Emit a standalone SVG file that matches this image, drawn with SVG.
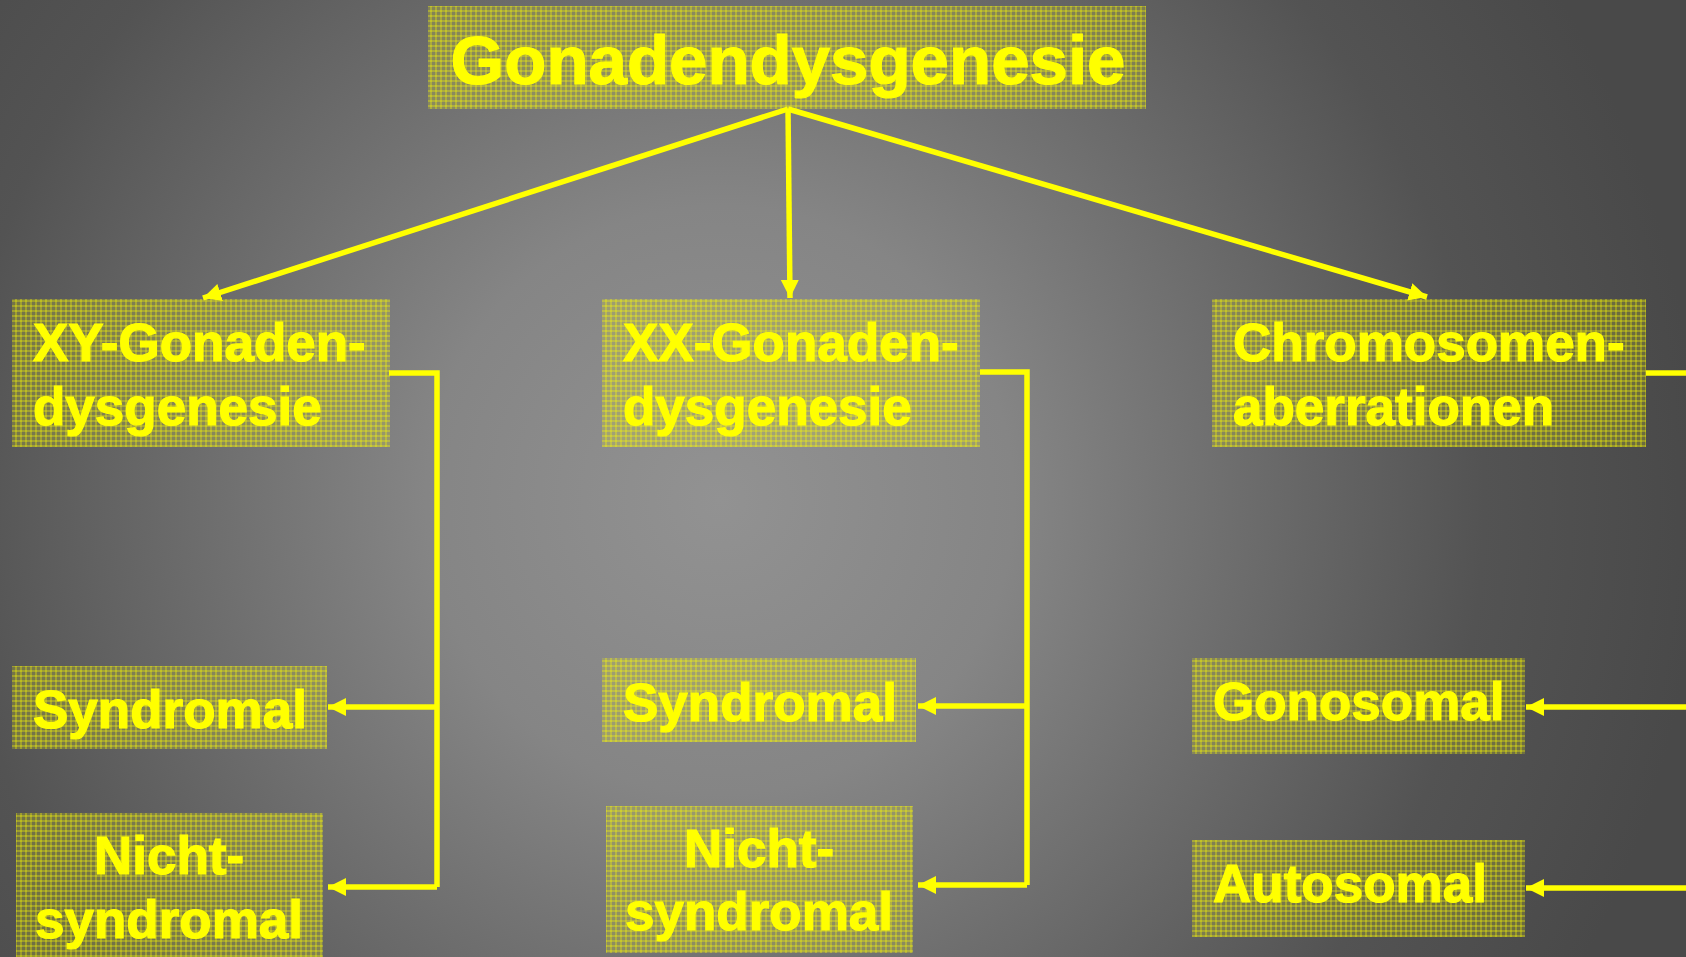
<svg xmlns="http://www.w3.org/2000/svg" width="1686" height="957" viewBox="0 0 1686 957">
<defs>
<radialGradient id="bg" gradientUnits="userSpaceOnUse" cx="720" cy="500" r="980">
<stop offset="0" stop-color="#929292"/>
<stop offset="0.3" stop-color="#858585"/>
<stop offset="0.78" stop-color="#535353"/>
<stop offset="1" stop-color="#494949"/>
</radialGradient>
<pattern id="mesh" width="5" height="5" patternUnits="userSpaceOnUse">
<rect width="5" height="5" fill="#ffff00" fill-opacity="0.18"/>
<rect x="0" y="0" width="2" height="5" fill="#ffff00" fill-opacity="0.3"/>
<rect x="0" y="0" width="5" height="2" fill="#ffff00" fill-opacity="0.3"/>
</pattern>
<marker id="arr" markerUnits="userSpaceOnUse" markerWidth="19" markerHeight="19" refX="18" refY="9" orient="auto">
<path d="M0,0 L18,9 L0,18 z" fill="#ffff00"/>
</marker>
<style>
.box{fill:url(#mesh);}
.t{font-family:"Liberation Sans",Arial,sans-serif;font-weight:bold;font-size:53px;fill:#ffff00;stroke:#ffff00;stroke-width:1.2px;}
.title{font-size:69px;}
.c{fill:none;stroke:#ffff00;stroke-width:5.5;}
.a{marker-end:url(#arr);}
</style>
</defs>
<rect width="1686" height="957" fill="url(#bg)"/>

<g id="connectors">
<path class="c a" d="M788,109 L203,298"/>
<path class="c a" d="M788,109 L790,298"/>
<path class="c a" d="M788,109 L1427,297"/>
<path class="c" d="M389,373 H437 V887"/>
<path class="c a" d="M437,707 H328"/>
<path class="c a" d="M437,887 H328"/>
<path class="c" d="M980,372 H1027 V885"/>
<path class="c a" d="M1027,706 H918"/>
<path class="c a" d="M1027,885 H918"/>
<path class="c" d="M1646,373 H1690"/>
<path class="c a" d="M1690,707 H1526"/>
<path class="c a" d="M1690,888 H1526"/>
</g>

<g id="node-root">
<rect class="box" x="428" y="6" width="718" height="103"/>
<text class="t title" x="788" y="84" text-anchor="middle">Gonadendysgenesie</text>
</g>
<g id="node-xy">
<rect class="box" x="12" y="299" width="378" height="148"/>
<text class="t" x="33" y="361">XY-Gonaden-</text>
<text class="t" x="33" y="425">dysgenesie</text>
</g>
<g id="node-xx">
<rect class="box" x="602" y="299" width="378" height="148"/>
<text class="t" x="623" y="361">XX-Gonaden-</text>
<text class="t" x="623" y="425">dysgenesie</text>
</g>
<g id="node-chrom">
<rect class="box" x="1212" y="299" width="434" height="148"/>
<text class="t" x="1233" y="361">Chromosomen-</text>
<text class="t" x="1233" y="425">aberrationen</text>
</g>
<g id="node-xy-syn">
<rect class="box" x="12" y="666" width="315" height="83"/>
<text class="t" x="33" y="728">Syndromal</text>
</g>
<g id="node-xy-nicht">
<rect class="box" x="16" y="813" width="307" height="144"/>
<text class="t" x="169" y="874" text-anchor="middle">Nicht-</text>
<text class="t" x="169" y="938" text-anchor="middle">syndromal</text>
</g>
<g id="node-xx-syn">
<rect class="box" x="602" y="658" width="314" height="84"/>
<text class="t" x="623" y="721">Syndromal</text>
</g>
<g id="node-xx-nicht">
<rect class="box" x="606" y="806" width="307" height="147"/>
<text class="t" x="759" y="867" text-anchor="middle">Nicht-</text>
<text class="t" x="759" y="930" text-anchor="middle">syndromal</text>
</g>
<g id="node-gono">
<rect class="box" x="1192" y="658" width="333" height="96"/>
<text class="t" x="1213" y="720">Gonosomal</text>
</g>
<g id="node-auto">
<rect class="box" x="1192" y="840" width="333" height="97"/>
<text class="t" x="1213" y="902">Autosomal</text>
</g>
</svg>
